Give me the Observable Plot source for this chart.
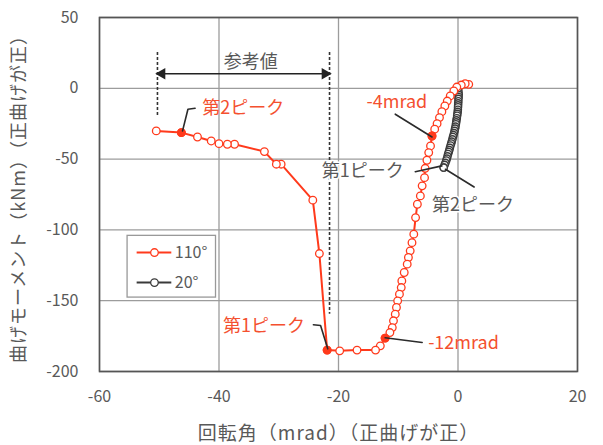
<!DOCTYPE html>
<html><head><meta charset="utf-8">
<script src="https://cdn.jsdelivr.net/npm/d3@7"></script>
<script src="https://cdn.jsdelivr.net/npm/@observablehq/plot@0.6"></script>
<style>body{margin:0;background:#fff;}</style>
</head><body><div id="chart"></div>
<script>
const xTicks = [-60, -40, -20, 0, 20];
const yTicks = [50, 0, -50, -100, -150, -200];

// 110° series (rotation mrad, moment kNm)
const s110X = [1.8, 1.2, 0.55, -0.2, -0.7, -1.3, -1.8, -2.2, -2.7, -3.1, -3.5, -3.9, -4.35, -4.6, -4.9, -5.2, -5.5, -5.6, -6.0, -6.3, -6.8, -7.1, -7.4, -7.7, -8.0, -8.3, -8.5, -9.0, -9.4, -9.5, -9.8, -10.1, -10.3, -10.5, -10.8, -11.0, -11.4, -12.2, -13.0, -13.8, -16.9, -19.8, -21.9, -23.2, -24.3, -29.6, -30.4, -32.4, -37.4, -38.6, -40.0, -41.3, -43.6, -46.3, -50.5];
const s110Y = [2.8, 3.2, 2.3, 0.9, -1.9, -5.4, -9.0, -12.5, -16.5, -20.7, -25.0, -28.9, -33.7, -40.7, -45.4, -50.8, -56.5, -63.1, -68.9, -76.0, -81.9, -91.3, -103, -109, -114.8, -119.5, -124.2, -130.1, -136, -140.7, -145.4, -150.1, -154.8, -159.5, -164.2, -169, -172.5, -176.4, -181.9, -184.9, -184.9, -185.4, -184.9, -116.7, -79.0, -53.6, -53.6, -44.7, -39.5, -39.5, -39.1, -37.2, -34.4, -31.3, -30.1];
// highlighted points of the 110° series
const keyX = [-46.3, -21.9, -12.2, -4.35];
const keyY = [-31.3, -184.9, -176.4, -33.7];

// 20° series
const s20X = [0, 0.06, 0.1, 0.12, 0.1, 0.08, 0.06, 0.03, 0.02, 0.0, -0.02, -0.05, -0.1, -0.14, -0.2, -0.26, -0.3, -0.36, -0.42, -0.5, -0.57, -0.66, -0.76, -0.85, -0.94, -1.05, -1.14, -1.25, -1.36, -1.45, -1.55, -1.66, -1.76, -1.86, -1.96, -2.1, -2.24, -2.4];
const s20Y = [0, -1.4, -3.1, -4.6, -6.1, -7.4, -9.1, -10.6, -12.0, -13.4, -15.1, -16.6, -18.0, -19.4, -21.1, -22.6, -24.0, -25.4, -27.1, -28.5, -30.0, -31.6, -33.1, -34.4, -36.0, -37.6, -39.0, -40.4, -42.1, -43.6, -45.0, -46.4, -48.1, -49.6, -51.0, -52.6, -54.1, -56.0];

const RED = "#ff3a1c";
const RED_TXT = "#f4502f";
const GRAY_TXT = "#595959";
const DARK = "#3a3a3a";
const FONT = "'Noto Sans CJK JP', 'Noto Sans', sans-serif";

const s110 = s110X.map((x, i) => ({x, y: s110Y[i]}));
const s20 = s20X.map((x, i) => ({x, y: s20Y[i]}));
const keys = keyX.map((x, i) => ({x, y: keyY[i]}));
const s20Ends = [s20[0], s20[s20.length - 1]];

// annotation leaders (data units)
const leaders = [
  {id: 1, pts: [[-46.1, -30.1], [-45.2, -14.8], [-44.0, -14.1]]},
  {id: 2, pts: [[-24.2, -167.0], [-23.0, -167.5], [-21.8, -184.0]]},
  {id: 3, pts: [[-12.2, -176.2], [-6.0, -179.5]]},
  {id: 4, pts: [[-10.5, -18.3], [-4.35, -34.4]]},
  {id: 5, pts: [[-7.15, -58.9], [-2.7, -54.8]]},
  {id: 6, pts: [[-2.1, -57.2], [2.7, -69.7]]}
].flatMap(d => d.pts.map(([x, y]) => ({id: d.id, x, y})));

const redLabels = [
  {x: -42.8, y: -13.9, t: "第2ピーク", a: "start"},
  {x: -25.6, y: -168.2, t: "第1ピーク", a: "end"},
  {x: -5.0, y: -179.7, t: "-12mrad", a: "start"},
  {x: -15.3, y: -9.5, t: "-4mrad", a: "start"}
];
const grayLabels = [
  {x: -22.8, y: -58.4, t: "第1ピーク", a: "start"},
  {x: -4.35, y: -82.4, t: "第2ピーク", a: "start"},
  {x: -34.7, y: 18.1, t: "参考値", a: "middle"}
];

// reference range bracket
const refX1 = -50.3, refX2 = -21.5, refY = 10.3;
const dashes = [
  {x: refX1, y1: 25.3, y2: -19.5},
  {x: refX2, y1: 25.3, y2: -159.5}
];

// legend
const legendItems = [
  {name: "110°", color: RED, y: -116},
  {name: "20°", color: DARK, y: -137.2}
];
const legendBox = {x1: -55.3, x2: -40.5, y1: -104.2, y2: -147.8};

const labelMarks = (data, fill, extra = {}) =>
  ["start", "middle", "end"].map(a =>
    Plot.text(data.filter(d => d.a === a), {x: "x", y: "y", text: "t", textAnchor: a, fill, fontSize: 18, ...extra}));

const chart = Plot.plot({
  width: 603,
  height: 445,
  marginLeft: 99,
  marginRight: 26,
  marginTop: 17,
  marginBottom: 74,
  style: {fontFamily: FONT, background: "#fff"},
  x: {domain: [-60, 20]},
  y: {domain: [-200, 50]},
  marks: [
    Plot.ruleX(xTicks, {stroke: "#9c9c9c", strokeWidth: 1.3}),
    Plot.ruleY(yTicks, {stroke: "#9c9c9c", strokeWidth: 1.3}),
    Plot.frame({stroke: "#555", strokeWidth: 1.6}),
    Plot.axisX({ticks: xTicks, tickSize: 0, tickPadding: 19, fontSize: 16, fill: GRAY_TXT, tickFormat: d => String(d), label: null}),
    Plot.axisY({ticks: yTicks, tickSize: 0, tickPadding: 21, fontSize: 16, fill: GRAY_TXT, tickFormat: d => String(d), label: null}),
    Plot.text(["回転角（mrad）（正曲げが正）"], {frameAnchor: "bottom", textAnchor: "middle", lineAnchor: "middle", dy: 62, fontSize: 19, fill: GRAY_TXT}),
    Plot.text(["曲げモーメント（kNm）（正曲げが正）"], {frameAnchor: "left", textAnchor: "middle", lineAnchor: "middle", dx: -80, rotate: -90, fontSize: 18, fill: GRAY_TXT}),
    // reference bracket
    Plot.ruleX(dashes, {x: "x", y1: "y1", y2: "y2", stroke: "#333", strokeWidth: 1.6, strokeDasharray: "3,2"}),
    Plot.ruleY([refY], {x1: refX1 + 1, x2: refX2 - 1, stroke: "#222", strokeWidth: 1.6}),
    Plot.dot([{x: refX1 + 0.75, r: -90}, {x: refX2 - 0.75, r: 90}], {x: "x", y: refY, rotate: "r", symbol: "triangle", r: 4.3, fill: "#222", stroke: "none"}),
    // 20° series
    Plot.line(s20, {x: "x", y: "y", stroke: DARK, strokeWidth: 3.5}),
    Plot.dot(s20, {x: "x", y: "y", r: 3.6, stroke: DARK, strokeWidth: 1.4, fill: "#fff", fillOpacity: 0.6}),
    Plot.dot(s20Ends, {x: "x", y: "y", r: 3.6, stroke: DARK, strokeWidth: 1.3, fill: "#fff"}),
    // 110° series
    Plot.line(s110, {x: "x", y: "y", stroke: RED, strokeWidth: 2}),
    Plot.dot(s110, {x: "x", y: "y", r: 3.8, stroke: RED, strokeWidth: 1.3, fill: "#fff"}),
    Plot.dot(keys, {x: "x", y: "y", r: 3.8, stroke: RED, strokeWidth: 1.3, fill: RED}),
    // annotations
    Plot.line(leaders, {x: "x", y: "y", z: "id", stroke: "#2b2b2b", strokeWidth: 1.6}),
    ...labelMarks(redLabels, RED_TXT),
    ...labelMarks(grayLabels, GRAY_TXT, {stroke: "#fff", strokeWidth: 3, paintOrder: "stroke"}),
    // legend
    Plot.rect([legendBox], {x1: "x1", x2: "x2", y1: "y1", y2: "y2", fill: "#fff", stroke: "#999", strokeWidth: 1.3}),
    Plot.ruleY(legendItems, {y: "y", x1: -53.7, x2: -47.9, stroke: "color", strokeWidth: 2}),
    Plot.dot(legendItems, {x: -50.8, y: "y", r: 3.8, stroke: "color", strokeWidth: 1.3, fill: "#fff"}),
    Plot.text(legendItems, {x: -47.4, y: "y", text: "name", textAnchor: "start", fill: GRAY_TXT, fontSize: 16})
  ]
});
// widen the two axis titles slightly, as in the reference
d3.select(chart).selectAll("text")
  .filter(function() { return /（正曲げが正）/.test(this.textContent); })
  .attr("letter-spacing", "1px");
document.getElementById("chart").append(chart);
</script>
</body></html>
